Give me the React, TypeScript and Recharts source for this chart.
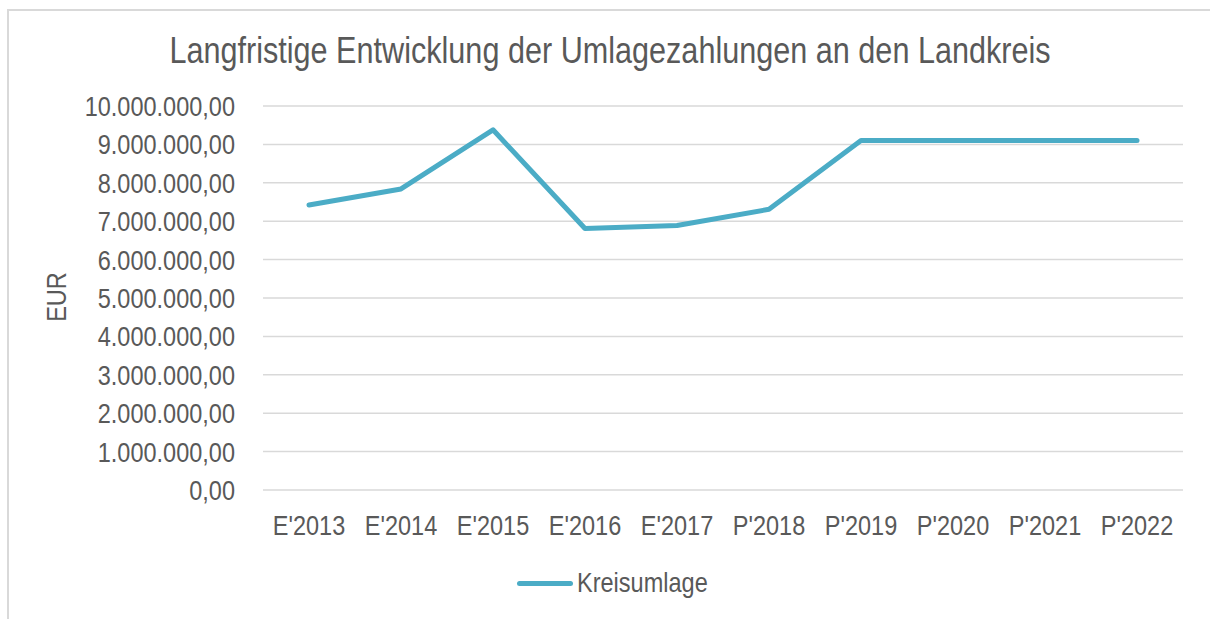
import { LineChart, Line, XAxis, YAxis, CartesianGrid } from 'recharts';

const years = ["E'2013", "E'2014", "E'2015", "E'2016", "E'2017", "P'2018", "P'2019", "P'2020", "P'2021", "P'2022"];
const kreisumlage = [7420000, 7840000, 9380000, 6810000, 6890000, 7310000, 9100000, 9100000, 9100000, 9100000];
const yTicks = [0, 1000000, 2000000, 3000000, 4000000, 5000000, 6000000, 7000000, 8000000, 9000000, 10000000];

const data = years.map((year, i) => ({ year, value: kreisumlage[i] }));

// no narrow font installed, so squeeze Liberation Sans horizontally
const FONT = "'Liberation Sans', Arial, sans-serif";
const NARROW = 0.84;
const TEXT = '#595959';
const LINE = '#4BACC6';

// 10000000 -> "10.000.000,00"
function formatEur(v: number) {
  const s = Math.round(v).toString().replace(/\B(?=(\d{3})+(?!\d))/g, '.');
  return s + ',00';
}

function YTick({ x, y, payload }: any) {
  return (
    <g transform={`translate(${x},${y})`}>
      <text transform={`scale(${NARROW},1)`} textAnchor="end" dy="0.355em" fill={TEXT} fontSize={28} fontFamily={FONT}>
        {formatEur(payload.value)}
      </text>
    </g>
  );
}

function XTick({ x, y, payload }: any) {
  return (
    <g transform={`translate(${x},${y})`}>
      <text transform={`scale(${NARROW},1)`} textAnchor="middle" dy="0.71em" fill={TEXT} fontSize={28} fontFamily={FONT}>
        {payload.value}
      </text>
    </g>
  );
}

export default function App() {
  return (
    <div style={{ position: 'fixed', left: 0, top: 0, width: 1210, height: 619, overflow: 'hidden', background: '#fff', fontFamily: FONT }}>
      <div style={{ position: 'absolute', left: 7, top: 9, width: 1300, height: 700, borderLeft: '2px solid #D9D9D9', borderTop: '2px solid #D9D9D9' }} />
      <div style={{ position: 'absolute', left: 0, width: 1220, top: 29, textAlign: 'center', fontSize: 36, color: TEXT, lineHeight: '44px', transform: 'scaleX(0.85)', whiteSpace: 'nowrap' }}>
        Langfristige Entwicklung der Umlagezahlungen an den Landkreis
      </div>
      <div style={{ position: 'absolute', left: 57, top: 297, transform: `translate(-50%, -50%) rotate(-90deg) scaleX(${NARROW})`, fontSize: 28, color: TEXT, whiteSpace: 'nowrap' }}>
        EUR
      </div>
      <div style={{ position: 'absolute', left: 8, top: 8 }}>
        <LineChart width={1194} height={611} data={data} margin={{ top: 98, right: 19, left: 0, bottom: 0 }}>
          <CartesianGrid vertical={false} stroke="#D9D9D9" strokeWidth={1.5} />
          <XAxis
            dataKey="year"
            axisLine={false}
            tickLine={false}
            tickMargin={19}
            height={129}
            interval={0}
            padding={{ left: 46, right: 46 }}
            tick={<XTick />}
          />
          <YAxis
            domain={[0, 10000000]}
            ticks={yTicks}
            interval={0}
            width={255}
            axisLine={false}
            tickLine={false}
            tickMargin={22}
            tick={<YTick />}
          />
          <Line
            type="linear"
            dataKey="value"
            stroke={LINE}
            strokeWidth={5}
            strokeLinecap="round"
            strokeLinejoin="round"
            dot={false}
            activeDot={false}
            isAnimationActive={false}
          />
        </LineChart>
      </div>
      <div style={{ position: 'absolute', left: 517, top: 566, display: 'flex', alignItems: 'center', fontSize: 28, color: TEXT, lineHeight: '34px', whiteSpace: 'nowrap' }}>
        <span style={{ display: 'inline-block', width: 56, height: 5, borderRadius: 3, background: LINE, marginRight: 4 }} />
        <span style={{ display: 'inline-block', transform: `scaleX(${NARROW})`, transformOrigin: 'left center' }}>Kreisumlage</span>
      </div>
    </div>
  );
}
